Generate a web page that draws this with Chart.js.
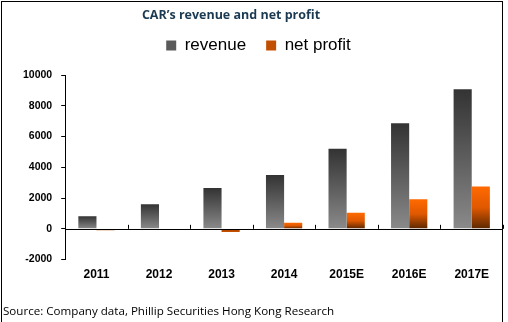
<!DOCTYPE html>
<html><head><meta charset="utf-8">
<script src="https://cdn.jsdelivr.net/npm/chart.js@4.4.0/dist/chart.umd.min.js"></script>
<style>
html,body{margin:0;padding:0;background:#fff;width:508px;height:322px;overflow:hidden;}
#wrap{position:relative;width:508px;height:322px;}
#c{position:absolute;left:0;top:0;}
#frame{position:absolute;left:1px;top:1px;width:502px;height:322px;border:1px solid #000;box-sizing:border-box;pointer-events:none;}
#title{position:absolute;left:0;width:462px;top:6px;text-align:center;font:bold 12.5px "Open Sans",sans-serif;color:#1b3a52;}
#src{position:absolute;left:3px;top:303px;font:11.6px "Open Sans",sans-serif;color:#000;}
</style></head>
<body><div id="wrap">
<canvas id="c" width="508" height="322"></canvas>
<div id="title">CAR’s revenue and net profit</div>
<div id="src">Source: Company data, Phillip Securities Hong Kong Research</div>
<div id="frame"></div>
</div>
<script>
const categories = ['2011','2012','2013','2014','2015E','2016E','2017E'];
const revenue = [820, 1600, 2650, 3500, 5200, 6870, 9080];
const netProfit = [-100, -80, -200, 400, 1050, 1930, 2760];
const yTicks = [-2000, 0, 2000, 4000, 6000, 8000, 10000];

function grad(ctx, top, bottom, stops){
  const g = ctx.chart.ctx.createLinearGradient(0, top, 0, bottom);
  stops.forEach((s,i)=>g.addColorStop(i/(stops.length-1), s));
  return g;
}
function barFill(stopsPos, stopsNeg){
  return function(ctx){
    const chart = ctx.chart;
    if(!chart.chartArea || ctx.type !== 'data') return stopsPos[1];
    const y = chart.scales.y;
    const v = ctx.raw;
    const p0 = y.getPixelForValue(0), p1 = y.getPixelForValue(v);
    const top = Math.min(p0,p1), bot = Math.max(p0,p1);
    if (bot - top < 1) return stopsPos[0];
    return grad(ctx, top, bot, v >= 0 ? stopsPos : stopsNeg);
  };
}
const revStops = ['#333333', '#5e5e5e', '#8a8a8a'];
const npStops = ['#ff6a00', '#e05800', '#5a2800'];
const npNeg = ['#a04000', '#c85000'];

const legendSpacer = {
  id:'legendSpacer',
  beforeInit(chart){
    const fit = chart.legend.fit;
    chart.legend.fit = function(){ fit.bind(chart.legend)(); this.height += 11; };
  }
};
const zeroTicks = {
  id:'zeroTicks',
  afterDatasetsDraw(chart){
    const x = chart.scales.x, y = chart.scales.y, c = chart.ctx;
    const yz = y.getPixelForValue(0);
    const n = x.ticks.length;
    c.save(); c.strokeStyle='#000'; c.lineWidth=1;
    c.beginPath();
    c.moveTo(x.left, Math.round(yz)+0.5); c.lineTo(x.right, Math.round(yz)+0.5);
    for(let i=1;i<=n;i++){
      const px = Math.round((x.getPixelForTick(i-1)+ (i<n ? x.getPixelForTick(i) : 2*x.getPixelForTick(i-1)-x.getPixelForTick(i-2)))/2)+0.5;
      c.moveTo(px, yz-4); c.lineTo(px, yz);
    }
    c.stroke(); c.restore();
  }
};

new Chart(document.getElementById('c'), {
  type:'bar',
  data:{
    labels: categories,
    datasets:[
      {label:'revenue', data:revenue, backgroundColor: barFill(revStops, revStops), borderWidth:0},
      {label:'net profit', data:netProfit, backgroundColor: barFill(npStops, npNeg), borderWidth:0}
    ]
  },
  plugins:[legendSpacer, zeroTicks],
  options:{
    responsive:false, animation:false, devicePixelRatio:1,
    layout:{padding:{top:17,left:14,right:5,bottom:32}},
    datasets:{bar:{categoryPercentage:0.58, barPercentage:1.0}},
    plugins:{
      title:{display:false},
      tooltip:{enabled:false},
      legend:{
        display:true, position:'top',
        labels:{
          boxWidth:10, boxHeight:10, padding:20,
          color:'#000', font:{family:'Liberation Sans, Arial, sans-serif', size:17},
          generateLabels(chart){
            return [
              {text:'revenue', fillStyle:'#5a5a5a', strokeStyle:'#5a5a5a', lineWidth:0, datasetIndex:0},
              {text:'net profit', fillStyle:'#c24e00', strokeStyle:'#c24e00', lineWidth:0, datasetIndex:1}
            ];
          }
        }
      }
    },
    scales:{
      x:{
        grid:{display:false, drawTicks:false},
        border:{display:false},
        ticks:{color:'#000', padding:8, font:{family:'Liberation Sans, Arial, sans-serif', size:12, weight:'bold'}}
      },
      y:{
        min:-2000, max:10000,
        afterBuildTicks(ax){ ax.ticks = yTicks.map(v=>({value:v})); },
        grid:{drawOnChartArea:false, drawTicks:true, tickLength:4, tickColor:'#000'},
        border:{display:true, color:'#000', width:1},
        ticks:{color:'#000', padding:9, callback:(v)=>String(v), font:{family:'Liberation Sans, Arial, sans-serif', size:10.5, weight:'bold'}}
      }
    }
  }
});
</script>
</body></html>
